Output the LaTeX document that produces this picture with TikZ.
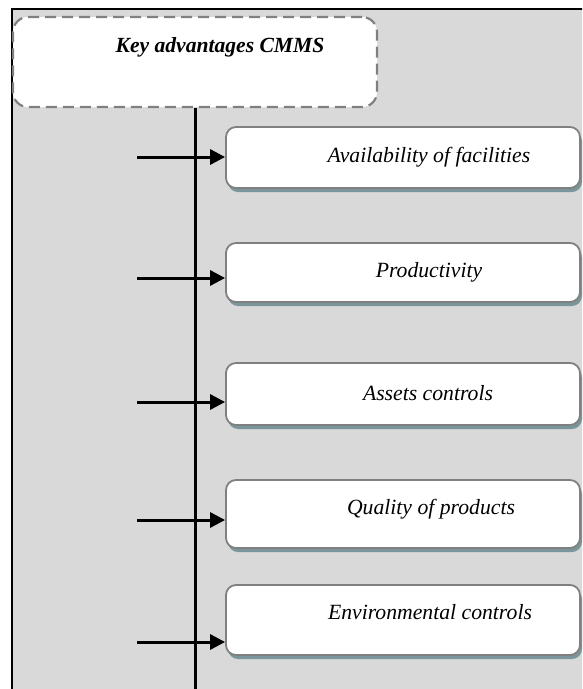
\documentclass[tikz,border=0pt]{standalone}
\usepackage{fontspec}
\setmainfont{Liberation Serif}
\usetikzlibrary{arrows.meta,shadows}
\definecolor{bgcol}{HTML}{D9D9D9}
\definecolor{edgecol}{HTML}{808080}
\definecolor{shadowcol}{HTML}{7A969B}
\begin{document}
\begin{tikzpicture}[x=1pt,y=-1pt,
  frame/.style={draw=black, line width=1.5pt, fill=bgcol},
  hdrbox/.style={draw=edgecol, line width=2.2pt, dash pattern=on 11pt off 6pt, fill=white, rounded corners=15pt, minimum width=364pt, minimum height=90pt, inner sep=0pt},
  itembox/.style={draw=edgecol, line width=1.8pt, fill=white, rounded corners=10pt, minimum width=354pt, inner sep=0pt,
    drop shadow={shadow xshift=2pt, shadow yshift=-4pt, fill=shadowcol, opacity=1}},
  lbl/.style={font=\fontsize{21.7}{26}\selectfont\itshape, inner sep=0pt},
  hdrlbl/.style={font=\fontsize{21.6}{26}\selectfont\bfseries\itshape, inner sep=0pt},
  conn/.style={line width=3pt},
  arr/.style={line width=3pt, -{Triangle[length=15pt,width=15pt]}}]
\useasboundingbox (0,0) rectangle (582,689);
\clip (0,0) rectangle (582,689);
\draw[frame] (12,9) rectangle (610,720);
\node[hdrbox] (h) at (195,62) {};
\node[hdrlbl] (ht) at (220,47) {Key advantages CMMS};
\coordinate (vb) at (195,700);
\draw[conn] (h.south) -- (h.south |- vb);
\node[itembox, minimum height=61pt] (b1) at (403,157.5) {};
\node[itembox, minimum height=59pt] (b2) at (403,272.5) {};
\node[itembox, minimum height=62pt] (b3) at (403,394) {};
\node[itembox, minimum height=68pt] (b4) at (403,514) {};
\node[itembox, minimum height=70pt] (b5) at (403,620) {};
\node[lbl] (t1) at (429,157) {Availability of facilities};
\node[lbl] (t2) at (429,272) {Productivity};
\node[lbl] (t3) at (428,393) {Assets controls};
\node[lbl] (t4) at (431,509) {Quality of products};
\node[lbl] (t5) at (430,612) {Environmental controls};
\coordinate (s1) at (137,157);
\coordinate (s2) at (137,278);
\coordinate (s3) at (137,402);
\coordinate (s4) at (137,520);
\coordinate (s5) at (137,642);
\draw[arr] (s1) -- (b1.west |- s1);
\draw[arr] (s2) -- (b2.west |- s2);
\draw[arr] (s3) -- (b3.west |- s3);
\draw[arr] (s4) -- (b4.west |- s4);
\draw[arr] (s5) -- (b5.west |- s5);
\end{tikzpicture}
\end{document}
